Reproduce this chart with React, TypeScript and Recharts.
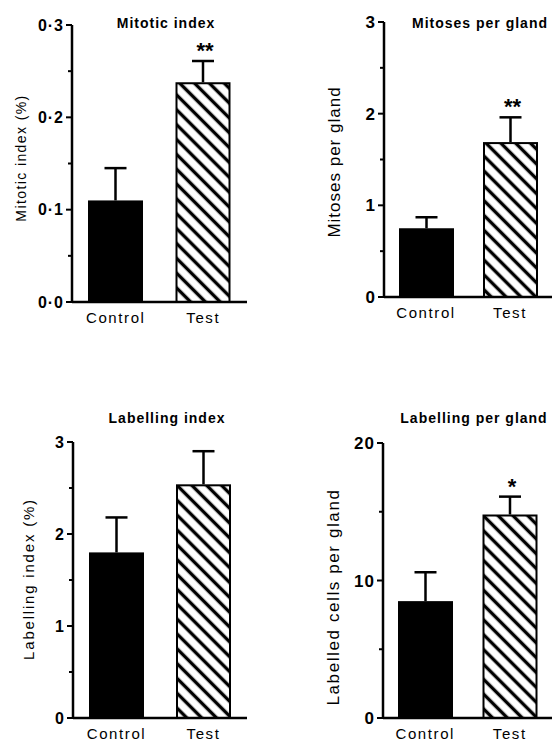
import { BarChart, Bar, XAxis, YAxis } from 'recharts';

const FONT = '"Liberation Sans", Arial, Helvetica, sans-serif';

const groups = ['Control', 'Test'];

const mitoticIndex = [0.11, 0.238];
const mitoticIndexErr = [0.035, 0.023];
const mitoticIndexSig = ['', '**'];
const mitoticTicks = [0, 0.05, 0.1, 0.15, 0.2, 0.25, 0.3];
const mitoticTickLabels = ['0·0', '', '0·1', '', '0·2', '', '0·3'];

const mitosesPerGland = [0.75, 1.69];
const mitosesPerGlandErr = [0.12, 0.27];
const mitosesPerGlandSig = ['', '**'];
const mitosesTicks = [0, 0.5, 1, 1.5, 2, 2.5, 3];
const mitosesTickLabels = ['0', '', '1', '', '2', '', '3'];

const labellingIndex = [1.8, 2.54];
const labellingIndexErr = [0.38, 0.36];
const labellingIndexSig = ['', ''];
const labellingTicks = [0, 0.5, 1, 1.5, 2, 2.5, 3];
const labellingTickLabels = ['0', '', '1', '', '2', '', '3'];

const labellingPerGland = [8.5, 14.8];
const labellingPerGlandErr = [2.1, 1.3];
const labellingPerGlandSig = ['', '*'];
const perGlandTicks = [0, 5, 10, 15, 20];
const perGlandTickLabels = ['0', '', '10', '', '20'];

const toRows = (values: number[], errs: number[], sig: string[]) =>
  groups.map((g, i) => ({ name: g, value: values[i], err: errs[i], sig: sig[i], hatched: g === 'Test' }));

// bar + one-sided error bar + significance stars
const makeShape = (pid: string) => (props: any) => {
  const { x, y, width, height, payload } = props;
  const perUnit = height / payload.value;
  const top = y - payload.err * perUnit;
  const cx = x + width / 2;
  return (
    <g>
      {payload.hatched ? (
        <>
          <defs>
            <pattern id={pid} patternUnits="userSpaceOnUse" width={10.5} height={10.5} patternTransform="rotate(-45)">
              <rect width={10.5} height={10.5} fill="#fff" />
              <line x1={5.25} y1={0} x2={5.25} y2={10.5} stroke="#000" strokeWidth={3.4} />
            </pattern>
          </defs>
          <rect x={x + 1} y={y + 1} width={width - 2} height={height - 1} fill={`url(#${pid})`} stroke="#000" strokeWidth={2} />
        </>
      ) : (
        <rect x={x} y={y} width={width} height={height} fill="#000" />
      )}
      <line x1={cx} y1={y} x2={cx} y2={top} stroke="#000" strokeWidth={2.5} />
      <line x1={cx - 11} y1={top} x2={cx + 11} y2={top} stroke="#000" strokeWidth={2.5} />
      {payload.sig && (
        <text x={cx + 2} y={top - 3} textAnchor="middle" fontFamily={FONT} fontWeight="bold" fontSize={22}>
          {payload.sig}
        </text>
      )}
    </g>
  );
};

interface PanelProps {
  left: number;
  top: number;
  width: number;
  height: number;
  axisWidth: number;
  margin: { top: number; right: number; bottom: number; left: number };
  xHeight: number;
  rows: any[];
  ticks: number[];
  tickLabels: string[];
  tickFont: number;
  pid: string;
}

function Panel(p: PanelProps) {
  return (
    <div style={{ position: 'absolute', left: p.left, top: p.top }}>
      <BarChart width={p.width} height={p.height} data={p.rows} margin={p.margin}>
        <XAxis
          dataKey="name"
          height={p.xHeight}
          tickSize={0}
          tickMargin={0}
          axisLine={{ stroke: '#000', strokeWidth: 2.5 }}
          tick={(t: any) => (
            <text x={t.x} y={t.y + 21} textAnchor="middle" fontFamily={FONT} fontSize={15} letterSpacing={1.6} fill="#000">
              {t.payload.value}
            </text>
          )}
        />
        <YAxis
          type="number"
          width={p.axisWidth}
          domain={[p.ticks[0], p.ticks[p.ticks.length - 1]]}
          ticks={p.ticks}
          interval={0}
          tickSize={0}
          tickMargin={0}
          axisLine={{ stroke: '#000', strokeWidth: 2.5 }}
          tick={(t: any) => {
            const label = p.tickLabels[t.index];
            return (
              <g>
                <line x1={t.x - (label ? 6 : 4)} y1={t.y} x2={t.x} y2={t.y} stroke="#000" strokeWidth={2} />
                {label && (
                  <text x={t.x - 8} y={t.y} dy="0.36em" textAnchor="end" fontFamily={FONT} fontWeight="bold" fontSize={p.tickFont} letterSpacing={1} fill="#000">
                    {label}
                  </text>
                )}
              </g>
            );
          }}
        />
        <Bar dataKey="value" barSize={55} shape={makeShape(p.pid)} isAnimationActive={false} />
      </BarChart>
    </div>
  );
}

const titleStyle = { fontFamily: FONT, fontWeight: 'bold' as const, fontSize: 14, letterSpacing: 1 };

export default function App() {
  return (
    <div style={{ position: 'absolute', left: 0, top: 0, width: 552, height: 742, background: '#fff', overflow: 'hidden' }}>
      <Panel
        left={0} top={0} width={260} height={340} axisWidth={72}
        margin={{ top: 25, right: 13, bottom: 8, left: 0 }} xHeight={30}
        rows={toRows(mitoticIndex, mitoticIndexErr, mitoticIndexSig)}
        ticks={mitoticTicks} tickLabels={mitoticTickLabels} tickFont={16} pid="hatch1"
      />
      <Panel
        left={276} top={0} width={276} height={340} axisWidth={108}
        margin={{ top: 22, right: 0, bottom: 13, left: 0 }} xHeight={30}
        rows={toRows(mitosesPerGland, mitosesPerGlandErr, mitosesPerGlandSig)}
        ticks={mitosesTicks} tickLabels={mitosesTickLabels} tickFont={17} pid="hatch2"
      />
      <Panel
        left={0} top={390} width={260} height={352} axisWidth={73}
        margin={{ top: 52, right: 13, bottom: 0, left: 0 }} xHeight={24}
        rows={toRows(labellingIndex, labellingIndexErr, labellingIndexSig)}
        ticks={labellingTicks} tickLabels={labellingTickLabels} tickFont={16} pid="hatch3"
      />
      <Panel
        left={276} top={390} width={276} height={352} axisWidth={107}
        margin={{ top: 53, right: 0, bottom: 0, left: 0 }} xHeight={24}
        rows={toRows(labellingPerGland, labellingPerGlandErr, labellingPerGlandSig)}
        ticks={perGlandTicks} tickLabels={perGlandTickLabels} tickFont={17} pid="hatch4"
      />
      <svg width={552} height={742} style={{ position: 'absolute', left: 0, top: 0, pointerEvents: 'none' }}>
        <text x={166} y={28} textAnchor="middle" {...titleStyle}>Mitotic index</text>
        <text x={480} y={28} textAnchor="middle" {...titleStyle}>Mitoses per gland</text>
        <text x={167} y={423} textAnchor="middle" {...titleStyle}>Labelling index</text>
        <text x={474} y={423} textAnchor="middle" {...titleStyle}>Labelling per gland</text>
        <text transform="translate(26,158) rotate(-90)" textAnchor="middle" fontFamily={FONT} fontSize={14} letterSpacing={1.4}>Mitotic index (%)</text>
        <text transform="translate(340,162) rotate(-90)" textAnchor="middle" fontFamily={FONT} fontSize={17} letterSpacing={1}>Mitoses per gland</text>
        <text transform="translate(34,579) rotate(-90)" textAnchor="middle" fontFamily={FONT} fontSize={15} letterSpacing={1.8}>Labelling index (%)</text>
        <text transform="translate(339,597) rotate(-90)" textAnchor="middle" fontFamily={FONT} fontSize={17} letterSpacing={1.6}>Labelled cells per gland</text>
      </svg>
    </div>
  );
}
